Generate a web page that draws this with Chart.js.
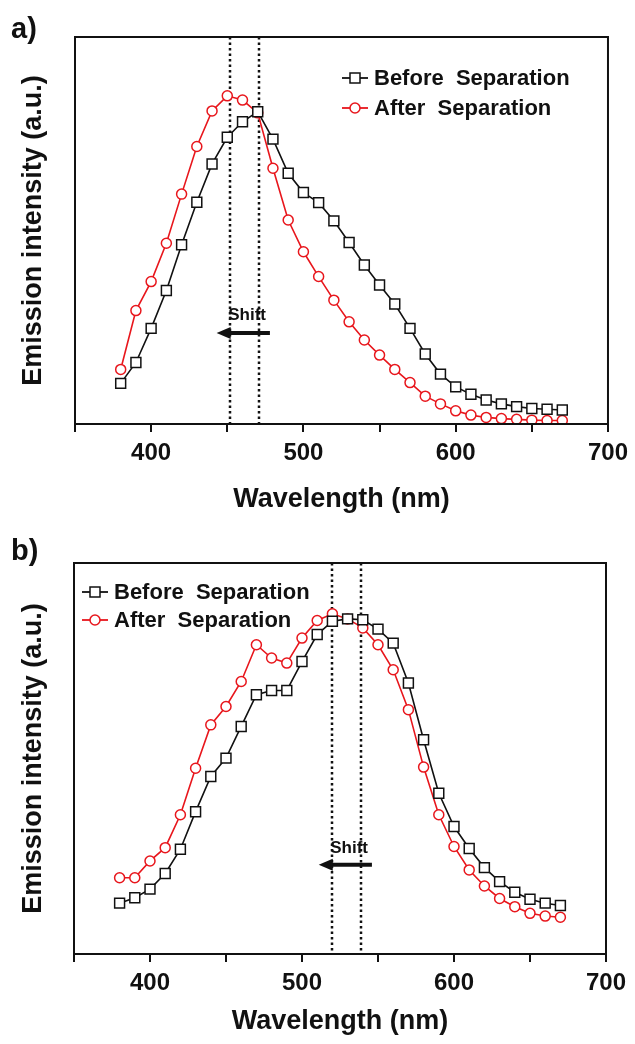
<!DOCTYPE html>
<html>
<head>
<meta charset="utf-8">
<script src="https://cdn.jsdelivr.net/npm/chart.js@4.4.0/dist/chart.umd.min.js"></script>
<style>
body { margin: 0; background: #fff; width: 635px; height: 1044px; overflow: hidden; }
canvas { position: absolute; left: 0; }
#chartA { top: 0; }
#chartB { top: 522px; }
</style>
</head>
<body>
<canvas id="chartA" width="635" height="522"></canvas>
<canvas id="chartB" width="635" height="522"></canvas>
<script>
// wavelength (nm), one reading every 10 nm
var wavelengths = [380, 390, 400, 410, 420, 430, 440, 450, 460, 470, 480, 490, 500, 510, 520,
                   530, 540, 550, 560, 570, 580, 590, 600, 610, 620, 630, 640, 650, 660, 670];

// panel a) normalised emission intensity
var beforeA = [0.105, 0.159, 0.247, 0.345, 0.463, 0.573, 0.672, 0.741, 0.781, 0.807, 0.736, 0.648, 0.598, 0.572, 0.525,
               0.469, 0.411, 0.359, 0.310, 0.247, 0.181, 0.129, 0.096, 0.077, 0.062, 0.052, 0.045, 0.040, 0.038, 0.036];
var afterA = [0.141, 0.293, 0.368, 0.467, 0.594, 0.717, 0.809, 0.848, 0.837, 0.804, 0.661, 0.527, 0.445, 0.381, 0.320,
              0.264, 0.217, 0.178, 0.141, 0.107, 0.072, 0.052, 0.034, 0.023, 0.017, 0.014, 0.012, 0.010, 0.009, 0.009];

// panel b)
var beforeB = [0.130, 0.144, 0.166, 0.206, 0.268, 0.364, 0.454, 0.501, 0.582, 0.663, 0.674, 0.674, 0.748, 0.817, 0.851,
               0.857, 0.855, 0.831, 0.795, 0.693, 0.548, 0.411, 0.326, 0.270, 0.221, 0.185, 0.158, 0.140, 0.130, 0.124];
var afterB = [0.195, 0.195, 0.238, 0.272, 0.356, 0.475, 0.586, 0.633, 0.697, 0.791, 0.757, 0.744, 0.808, 0.853, 0.870,
              0.857, 0.834, 0.791, 0.727, 0.625, 0.478, 0.356, 0.275, 0.215, 0.174, 0.142, 0.121, 0.104, 0.097, 0.094];

var seriesNames = ["Before  Separation", "After  Separation"];
var xTickLabels = [400, 500, 600, 700];
var peaksA = [452, 471];
var peaksB = [520, 539];

var FONT = "'Liberation Sans', Arial, sans-serif";
var BLACK = "#111111";
var RED = "#e8161c";

function toPoints(ys) {
    return wavelengths.map(function (w, i) { return {x: w, y: ys[i]}; });
}

function drawMarker(ctx, kind, x, y, color) {
    ctx.save();
    ctx.strokeStyle = color;
    ctx.fillStyle = "#fff";
    ctx.lineWidth = 1.5;
    ctx.beginPath();
    if (kind === "rect") {
        ctx.rect(x - 5, y - 5, 10, 10);
    } else {
        ctx.arc(x, y, 5, 0, Math.PI * 2);
    }
    ctx.fill();
    ctx.stroke();
    ctx.restore();
}

function makeChart(id, before, after, cfg) {
    var box = cfg.box;
    var ctxEl = document.getElementById(id);

    var annotate = {
        id: "annotate" + id,
        beforeDatasetsDraw: function (chart) {
            var ctx = chart.ctx, area = chart.chartArea, xs = chart.scales.x;
            ctx.save();
            ctx.strokeStyle = BLACK;
            ctx.lineWidth = 2.5;
            ctx.setLineDash([2.5, 3]);
            cfg.peaks.forEach(function (p) {
                var x = Math.round(xs.getPixelForValue(p));
                ctx.beginPath();
                ctx.moveTo(x, area.top);
                ctx.lineTo(x, area.bottom);
                ctx.stroke();
            });
            ctx.restore();
        },
        afterDraw: function (chart) {
            var ctx = chart.ctx, area = chart.chartArea;
            var xs = chart.scales.x, ys = chart.scales.y;
            ctx.save();
            // frame
            ctx.strokeStyle = BLACK;
            ctx.lineWidth = 2;
            ctx.strokeRect(area.left, area.top, area.right - area.left, area.bottom - area.top);

            // shift label and arrow
            ctx.fillStyle = BLACK;
            ctx.font = "bold 17px " + FONT;
            ctx.textAlign = "center";
            ctx.textBaseline = "middle";
            ctx.fillText("Shift", xs.getPixelForValue(cfg.shift.textX), ys.getPixelForValue(cfg.shift.textY));
            var ay = ys.getPixelForValue(cfg.shift.arrowY);
            var x1 = xs.getPixelForValue(cfg.shift.from);
            var x2 = xs.getPixelForValue(cfg.shift.to);
            ctx.strokeStyle = BLACK;
            ctx.lineWidth = 4;
            ctx.beginPath();
            ctx.moveTo(x1 + 8, ay);
            ctx.lineTo(x2, ay);
            ctx.stroke();
            ctx.beginPath();
            ctx.moveTo(x1, ay);
            ctx.lineTo(x1 + 14, ay - 6);
            ctx.lineTo(x1 + 14, ay + 6);
            ctx.closePath();
            ctx.fill();

            // legend
            var kinds = ["rect", "circle"];
            var colors = [BLACK, RED];
            ctx.font = "bold 22px " + FONT;
            ctx.textAlign = "left";
            for (var i = 0; i < 2; i++) {
                var ly = cfg.legend.y + i * cfg.legend.gap;
                ctx.strokeStyle = colors[i];
                ctx.lineWidth = 1.8;
                ctx.beginPath();
                ctx.moveTo(cfg.legend.x, ly);
                ctx.lineTo(cfg.legend.x + 26, ly);
                ctx.stroke();
                drawMarker(ctx, kinds[i], cfg.legend.x + 13, ly, colors[i]);
                ctx.fillStyle = BLACK;
                ctx.fillText(seriesNames[i], cfg.legend.x + 32, ly + 1);
            }

            // panel letter
            ctx.font = "bold 29px " + FONT;
            ctx.fillStyle = BLACK;
            ctx.fillText(cfg.letter, 11, cfg.letterY);
            ctx.restore();
        }
    };

    return new Chart(ctxEl, {
        type: "line",
        data: {
            datasets: [{
                label: seriesNames[0],
                data: toPoints(before),
                borderColor: BLACK,
                borderWidth: 1.6,
                pointStyle: "rect",
                pointRadius: 7,
                pointBorderWidth: 1.5,
                pointBorderColor: BLACK,
                pointBackgroundColor: "#fff",
                tension: 0
            }, {
                label: seriesNames[1],
                data: toPoints(after),
                borderColor: RED,
                borderWidth: 1.6,
                pointStyle: "circle",
                pointRadius: 5,
                pointBorderWidth: 1.5,
                pointBorderColor: RED,
                pointBackgroundColor: "#fff",
                tension: 0
            }]
        },
        options: {
            responsive: false,
            animation: false,
            events: [],
            layout: {padding: {top: box.top, right: 635 - box.right, bottom: 0, left: 0}},
            plugins: {legend: {display: false}, tooltip: {enabled: false}},
            scales: {
                x: {
                    type: "linear",
                    min: 350,
                    max: 700,
                    afterFit: function (scale) { scale.height = 522 - box.bottom; },
                    ticks: {
                        stepSize: 50,
                        autoSkip: false,
                        maxRotation: 0,
                        padding: 7,
                        color: BLACK,
                        font: {family: FONT, size: 24, weight: "bold"},
                        callback: function (v) { return xTickLabels.indexOf(v) >= 0 ? String(v) : ""; }
                    },
                    grid: {drawOnChartArea: false, drawTicks: true, tickLength: 8, color: BLACK, lineWidth: 2},
                    border: {display: false},
                    title: {
                        display: true,
                        text: "Wavelength (nm)",
                        color: BLACK,
                        font: {family: FONT, size: 27, weight: "bold"},
                        padding: {top: 0, bottom: 6}
                    }
                },
                y: {
                    min: 0,
                    max: 1,
                    afterFit: function (scale) { scale.width = box.left; },
                    ticks: {display: false},
                    grid: {display: false},
                    border: {display: false},
                    title: {
                        display: true,
                        text: "Emission intensity (a.u.)",
                        color: BLACK,
                        font: {family: FONT, size: 27, weight: "bold"},
                        padding: {top: 17, bottom: 0}
                    }
                }
            }
        },
        plugins: [annotate]
    });
}

makeChart("chartA", beforeA, afterA, {
    box: {left: 75, right: 608, top: 37, bottom: 424},
    peaks: peaksA,
    shift: {textX: 463, textY: 0.282, arrowY: 0.235, from: 443, to: 478},
    legend: {x: 342, y: 78, gap: 30},
    letter: "a)",
    letterY: 30
});

makeChart("chartB", beforeB, afterB, {
    box: {left: 74, right: 606, top: 41, bottom: 432},
    peaks: peaksB,
    shift: {textX: 531, textY: 0.271, arrowY: 0.228, from: 511, to: 546},
    legend: {x: 82, y: 70, gap: 28},
    letter: "b)",
    letterY: 30
});
</script>
</body>
</html>
